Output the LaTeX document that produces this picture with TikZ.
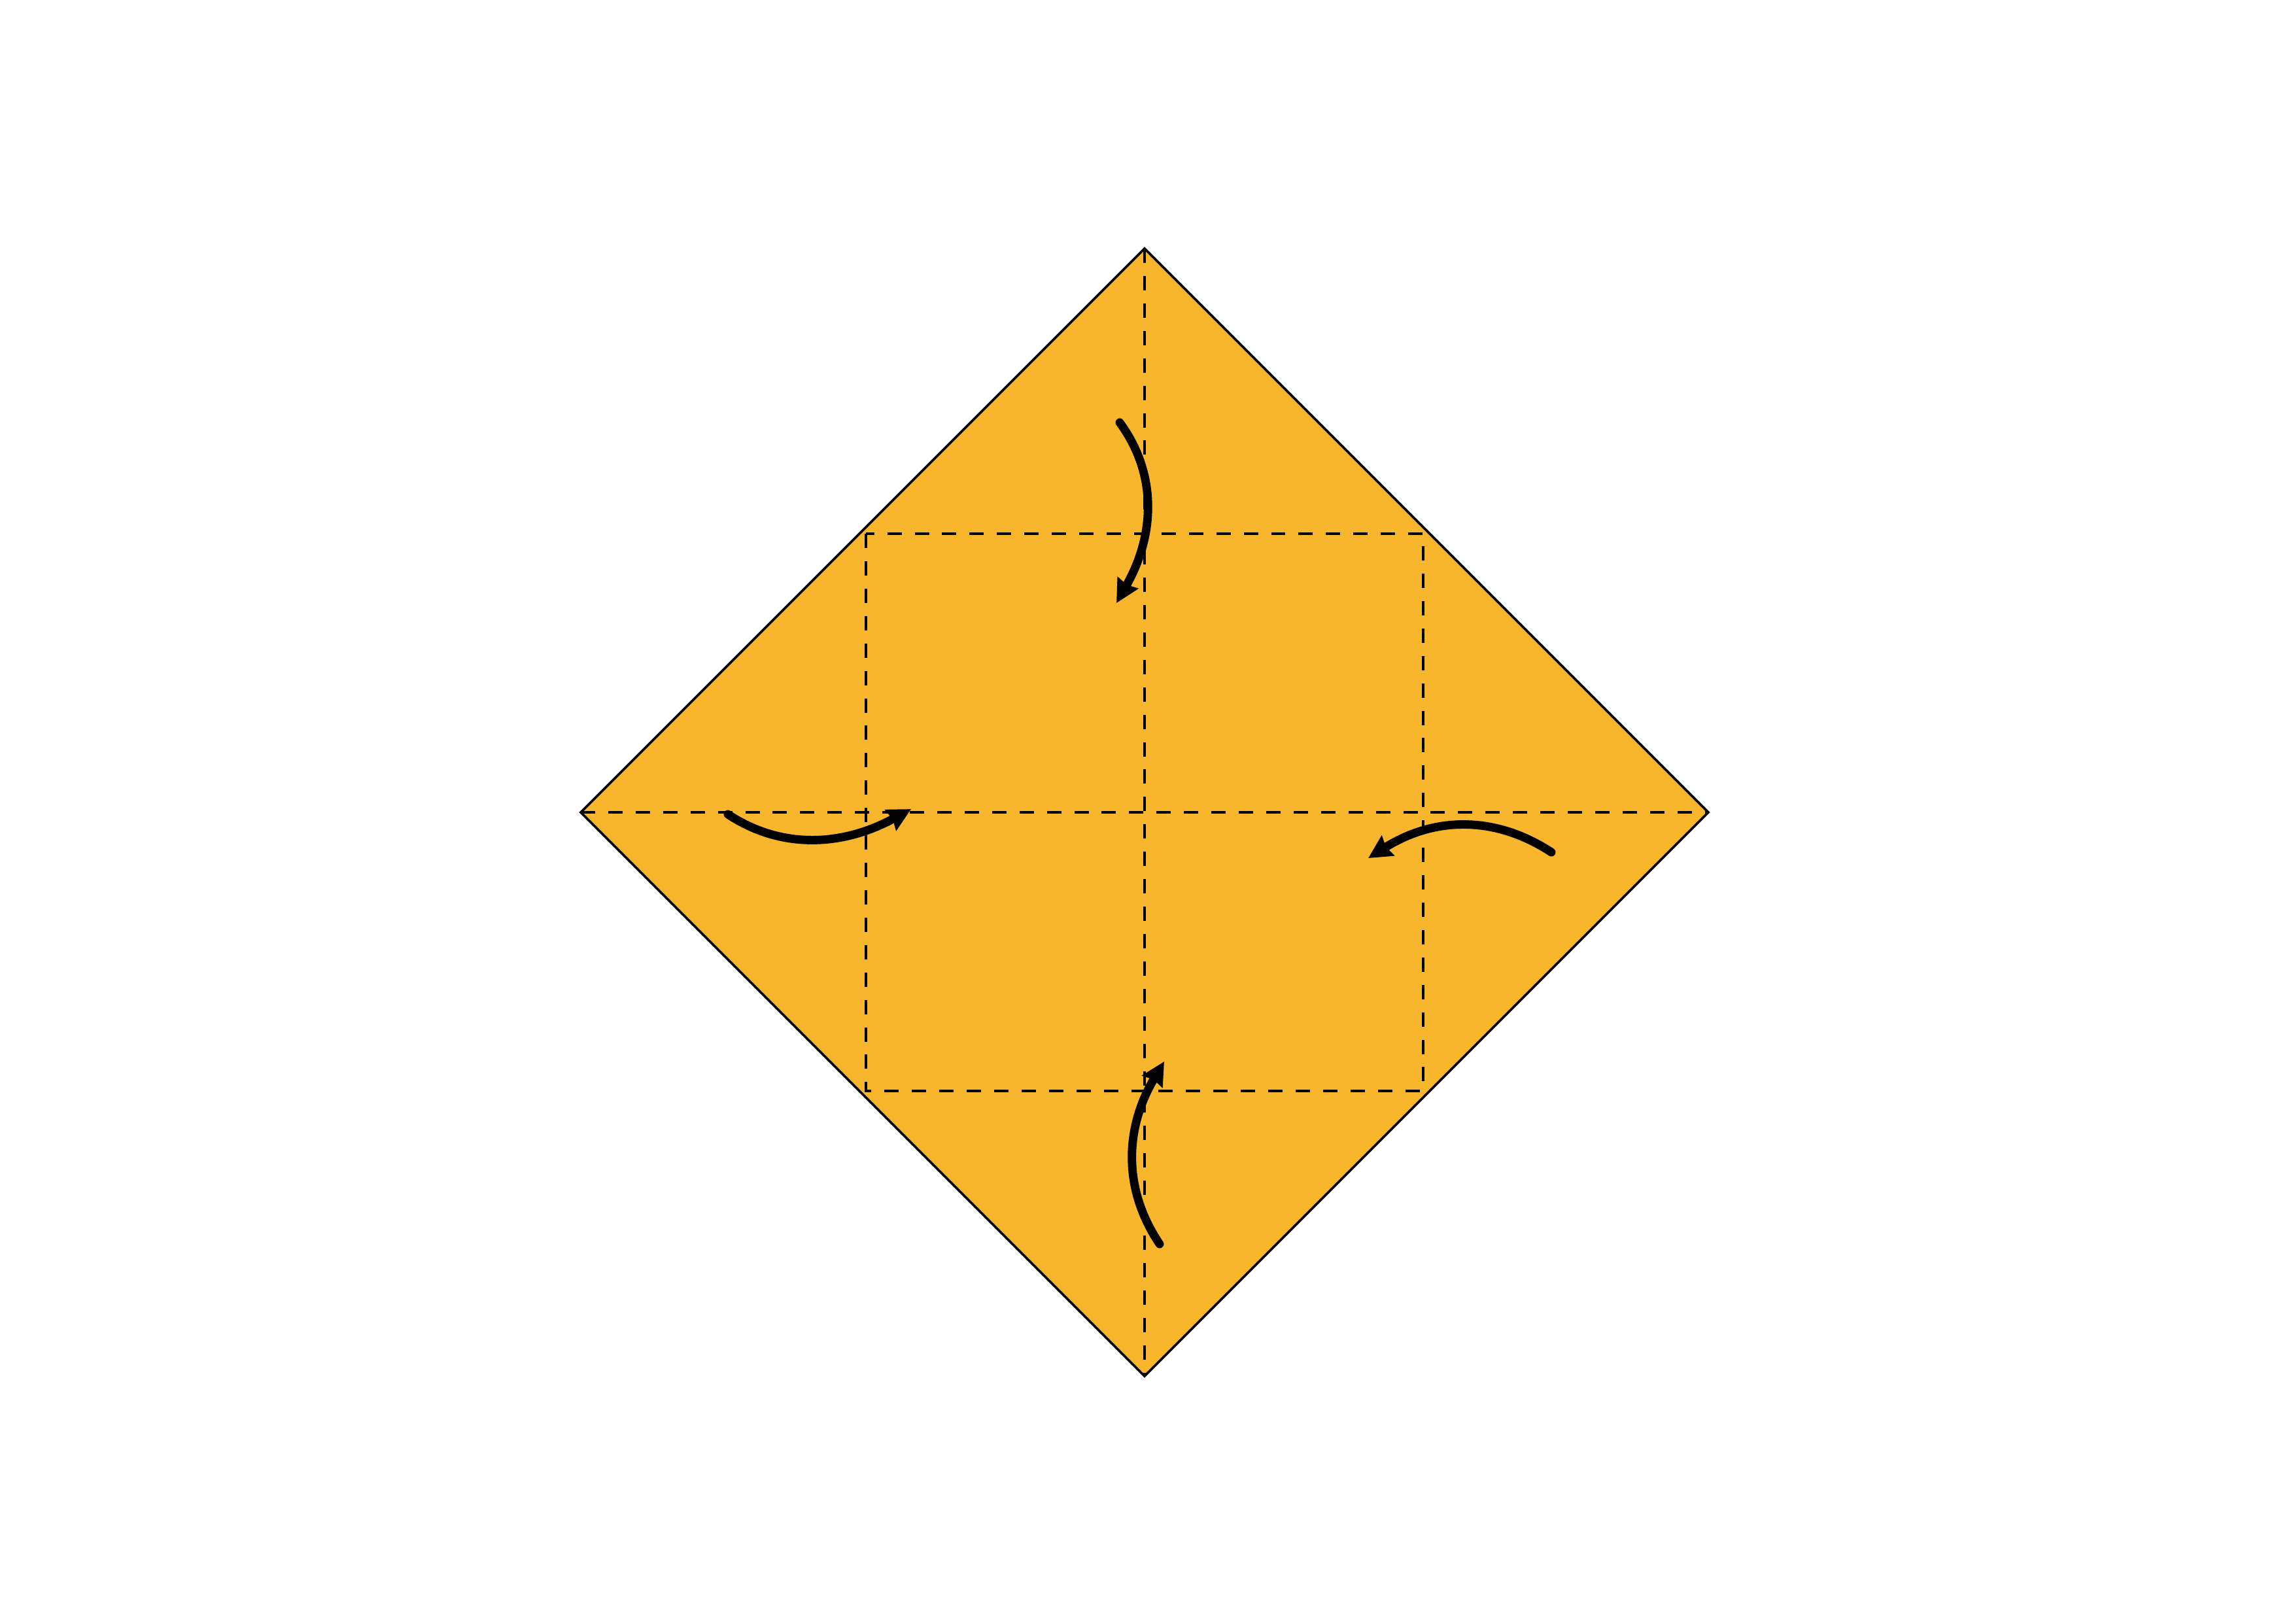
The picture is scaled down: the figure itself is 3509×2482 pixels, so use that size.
\documentclass[tikz,border=0pt]{standalone}
\usetikzlibrary{arrows.meta}
\definecolor{paper}{RGB}{247,182,43}
\begin{document}
\begin{tikzpicture}[
    x=0.008467cm, y=-0.008467cm,
    edge/.style={line width=0.9pt, line join=miter},
    crease/.style={line width=1pt, dash pattern=on 5.3pt off 4.8pt},
    foldarr/.style={line width=3.1pt, line cap=round, -{Stealth[length=8.5pt, width=8.5pt, inset=0.8pt]}}
]
\useasboundingbox (0,0) rectangle (3509,2482);

\coordinate (top) at (1750,380);
\coordinate (left) at (888,1242);
\coordinate (right) at (2612,1242);
\coordinate (bot) at (1750,2104);

\fill[paper] (top) -- (right) -- (bot) -- (left) -- cycle;

\draw[crease] (top) -- (bot);
\draw[crease] (left) -- (right);
\draw[crease] (1324,816) rectangle (2176,1668);

\draw[edge] (top) -- (right) -- (bot) -- (left) -- cycle;

\coordinate (ta) at (1712,646);
\coordinate (tb) at (1707,922);
\coordinate (la) at (1113,1245);
\coordinate (lb) at (1393,1237);
\coordinate (ra) at (2372,1303);
\coordinate (rb) at (2092,1312);
\coordinate (ba) at (1773,1902);
\coordinate (bb) at (1780,1623);

\draw[foldarr] (ta) .. controls (1769,724) and (1767,816) .. (tb);
\draw[foldarr] (la) .. controls (1193,1298) and (1286,1295) .. (lb);
\draw[foldarr] (ra) .. controls (2285,1246) and (2192,1249) .. (rb);
\draw[foldarr] (ba) .. controls (1717,1819) and (1719,1726) .. (bb);
\end{tikzpicture}
\end{document}
